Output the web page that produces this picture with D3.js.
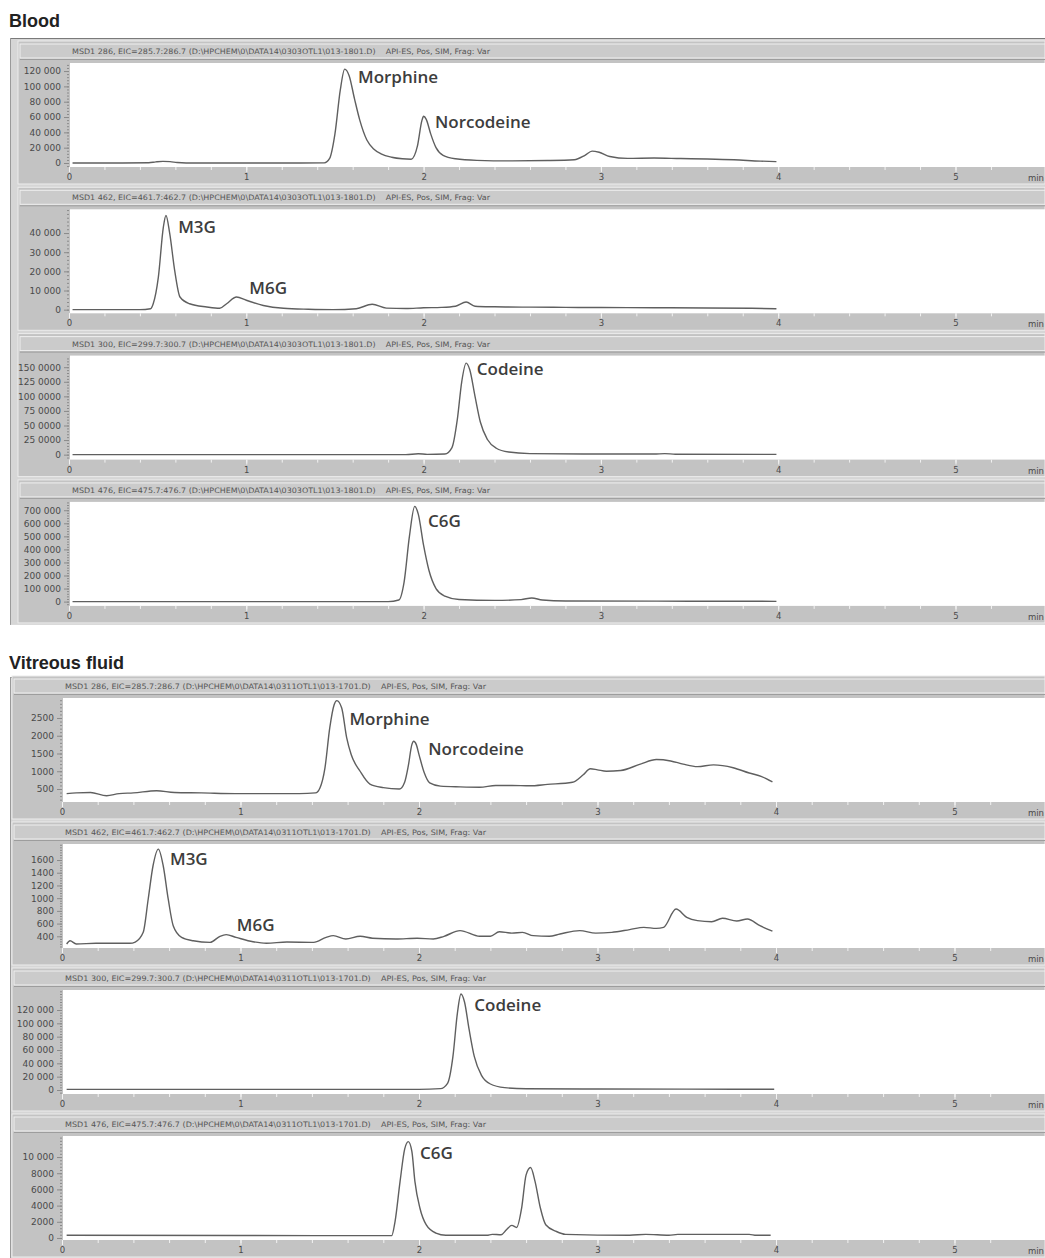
<!DOCTYPE html>
<html>
<head>
<meta charset="utf-8">
<script src="https://cdn.jsdelivr.net/npm/d3@7"></script>
<style>
  body { margin: 0; background: #fff; }
  svg { display: block; font-family: "DejaVu Sans", sans-serif; }
</style>
</head>
<body>
<svg id="chart" width="1045" height="1258"></svg>
<script>
// ---- data: [time (min), abundance] ----
var bloodIon286 = [[0.02,0],[0.3,0],[0.45,300],[0.49,1500],[0.53,2200],[0.57,1800],[0.61,600],[0.66,0],[1.0,0],[1.3,0],[1.44,200],[1.47,6000],[1.5,38000],[1.53,95000],[1.555,122500],[1.58,114000],[1.61,84000],[1.64,56000],[1.68,30000],[1.72,18000],[1.76,12000],[1.82,7500],[1.88,5500],[1.93,5000],[1.965,22000],[1.99,55000],[2.0,61000],[2.015,57000],[2.04,38000],[2.07,20000],[2.11,10000],[2.18,5500],[2.3,3500],[2.5,2800],[2.7,3200],[2.85,4200],[2.91,10000],[2.95,15500],[2.99,14000],[3.05,8500],[3.15,6000],[3.3,6500],[3.45,5800],[3.6,5200],[3.75,4200],[3.9,2500],[3.99,1800]];
var bloodIon462 = [[0.02,0],[0.4,0],[0.46,500],[0.475,3100],[0.504,17000],[0.532,43000],[0.547,49200],[0.568,39800],[0.596,20500],[0.626,6600],[0.68,3100],[0.777,1400],[0.85,700],[0.889,3100],[0.945,6600],[1.0,4900],[1.096,2200],[1.21,700],[1.35,200],[1.49,0],[1.62,500],[1.71,2800],[1.79,800],[1.9,600],[2.0,1000],[2.1,1200],[2.18,1800],[2.24,4000],[2.29,1800],[2.4,1500],[2.6,1300],[2.8,1200],[3.0,1100],[3.3,1000],[3.6,900],[3.85,700],[3.99,500]];
var bloodIon300 = [[0.02,0],[1.0,0],[1.9,0],[1.97,15000],[2.02,5000],[2.12,10000],[2.16,120000],[2.19,600000],[2.215,1250000],[2.24,1570000],[2.26,1460000],[2.29,1000000],[2.32,560000],[2.36,260000],[2.41,110000],[2.48,45000],[2.6,18000],[2.9,10000],[3.3,10000],[3.36,18000],[3.42,8000],[3.99,5000]];
var bloodIon476 = [[0.02,0],[1.0,0],[1.8,0],[1.86,12000],[1.89,150000],[1.92,500000],[1.95,730000],[1.97,670000],[2.0,430000],[2.03,240000],[2.07,100000],[2.12,42000],[2.2,16000],[2.4,9000],[2.55,15000],[2.61,28000],[2.67,12000],[2.8,5000],[3.5,3000],[3.99,2000]];

var vitIon286 = [[0.026,370],[0.08,390],[0.16,400],[0.25,310],[0.32,370],[0.4,390],[0.53,450],[0.63,400],[0.78,390],[0.97,370],[1.15,370],[1.33,370],[1.42,390],[1.445,530],[1.473,1090],[1.5,2220],[1.525,2880],[1.54,2990],[1.567,2780],[1.595,1940],[1.62,1470],[1.67,1000],[1.725,640],[1.8,540],[1.89,500],[1.92,700],[1.94,1150],[1.96,1750],[1.97,1844],[1.985,1750],[2.0,1470],[2.03,950],[2.06,670],[2.12,580],[2.23,560],[2.34,550],[2.43,600],[2.52,600],[2.62,590],[2.72,630],[2.86,690],[2.92,900],[2.96,1070],[3.0,1040],[3.05,1000],[3.13,1020],[3.24,1200],[3.33,1330],[3.41,1290],[3.48,1200],[3.56,1130],[3.65,1180],[3.76,1100],[3.85,950],[3.92,850],[3.98,700]];
var vitIon462 = [[0.026,279],[0.045,330],[0.08,279],[0.19,290],[0.3,290],[0.38,290],[0.41,310],[0.455,463],[0.483,987],[0.51,1510],[0.54,1772],[0.567,1510],[0.595,987],[0.623,567],[0.67,384],[0.735,330],[0.83,305],[0.885,400],[0.92,426],[0.975,384],[1.07,315],[1.145,290],[1.26,310],[1.41,305],[1.48,384],[1.52,410],[1.59,357],[1.67,400],[1.74,370],[1.87,357],[1.99,370],[2.08,357],[2.14,400],[2.23,490],[2.34,400],[2.4,400],[2.45,472],[2.52,450],[2.58,462],[2.64,410],[2.73,400],[2.79,436],[2.9,490],[2.99,450],[3.08,462],[3.18,505],[3.26,541],[3.33,525],[3.37,541],[3.44,829],[3.5,698],[3.56,646],[3.64,630],[3.7,683],[3.78,640],[3.84,672],[3.91,567],[3.98,480]];
var vitIon300 = [[0.026,1000],[1.0,1000],[2.0,1000],[2.12,2000],[2.16,10000],[2.19,50000],[2.215,115000],[2.235,144000],[2.255,132000],[2.28,92000],[2.31,50000],[2.35,22000],[2.4,9000],[2.48,3500],[2.6,1800],[3.0,1500],[3.5,1300],[3.99,1200]];
var vitIon476 = [[0.026,330],[1.0,300],[1.847,290],[1.866,2060],[1.894,7000],[1.92,11000],[1.94,11900],[1.96,10700],[1.977,7000],[2.005,3700],[2.04,1640],[2.095,600],[2.15,330],[2.38,330],[2.41,450],[2.46,400],[2.49,1020],[2.52,1560],[2.547,1300],[2.575,3700],[2.6,7800],[2.625,8700],[2.65,7000],[2.68,3700],[2.71,1640],[2.77,800],[2.82,450],[3.18,330],[3.27,450],[3.4,330],[3.45,450],[3.85,450],[3.89,330],[3.97,330]];

// y tick labels per panel
var bloodTicks286 = [0, 20000, 40000, 60000, 80000, 100000, 120000];
var bloodTicks462 = [0, 10000, 20000, 30000, 40000];
var bloodTicks300 = [0, 250000, 500000, 750000, 1000000, 1250000, 1500000];
var bloodTicks476 = [0, 100000, 200000, 300000, 400000, 500000, 600000, 700000];
var vitTicks286 = [500, 1000, 1500, 2000, 2500];
var vitTicks462 = [400, 600, 800, 1000, 1200, 1400, 1600];
var vitTicks300 = [0, 20000, 40000, 60000, 80000, 100000, 120000];
var vitTicks476 = [0, 2000, 4000, 6000, 8000, 10000];

var timeTicks = [0, 1, 2, 3, 4, 5];

// peak names, [time, abundance] where the label sits
var bloodLabels = [
    [{ name: "Morphine", t: 1.63, v: 104000 }, { name: "Norcodeine", t: 2.064, v: 45700 }],
    [{ name: "M3G", t: 0.616, v: 40000 }, { name: "M6G", t: 1.017, v: 8000 }],
    [{ name: "Codeine", t: 2.30, v: 1358000 }],
    [{ name: "C6G", t: 2.025, v: 569000 }]
];
var vitLabels = [
    [{ name: "Morphine", t: 1.61, v: 2311 }, { name: "Norcodeine", t: 2.052, v: 1466 }],
    [{ name: "M3G", t: 0.605, v: 1521 }, { name: "M6G", t: 0.979, v: 488 }],
    [{ name: "Codeine", t: 2.31, v: 118500 }],
    [{ name: "C6G", t: 2.006, v: 9790 }]
];

var ions = ["286", "462", "300", "476"];

var spaceFmt = function (d) {
    return d >= 10000 ? d3.format(",")(d).replace(/,/g, " ") : String(d);
};
var oddFmt = function (d) { return d === 0 ? "0" : (d / 10000) + " 0000"; };

var blocks = [
    {
        title: "Blood", titleY: 27, frameTop: 38, top: 44, pitch: 146.3, x0: 69, pxMin: 177.3,
        file: "0303OTL1\\013-1801.D", headLen: 418,
        traces: [bloodIon286, bloodIon462, bloodIon300, bloodIon476],
        ticks: [bloodTicks286, bloodTicks462, bloodTicks300, bloodTicks476],
        fmts: [spaceFmt, spaceFmt, oddFmt, spaceFmt],
        domains: [[-5200, 130500], [-1900, 52400], [-85000, 1699000], [-33000, 764000]],
        labels: bloodLabels, panelLeft: 18
    },
    {
        title: "Vitreous fluid", titleY: 669, frameTop: 677, top: 679, pitch: 146, x0: 62, pxMin: 178.5,
        file: "0311OTL1\\013-1701.D", headLen: 421,
        traces: [vitIon286, vitIon462, vitIon300, vitIon476],
        ticks: [vitTicks286, vitTicks462, vitTicks300, vitTicks476],
        fmts: [spaceFmt, spaceFmt, spaceFmt, spaceFmt],
        domains: [[134, 3063], [216, 1852], [-6000, 150000], [-250, 12600]],
        labels: vitLabels, panelLeft: 12
    }
];

var W = 1045;
var svg = d3.select("#chart");
var defs = svg.append("defs");

blocks.forEach(function (b, bi) {
    // section title
    svg.append("text")
        .attr("x", 9).attr("y", b.titleY)
        .attr("font-family", "'Liberation Sans', Arial, sans-serif")
        .attr("font-weight", "bold").attr("font-size", 19)
        .attr("textLength", bi === 0 ? 51 : 115).attr("lengthAdjust", "spacingAndGlyphs")
        .attr("fill", "#222")
        .text(b.title);

    var blockBottom = Math.min(b.top + b.pitch * 3 + 142, 1258);
    svg.append("rect")
        .attr("x", 10).attr("y", b.frameTop)
        .attr("width", W - 10).attr("height", blockBottom - b.frameTop)
        .attr("fill", "#d6d6d6");
    svg.append("line")
        .attr("x1", 10).attr("x2", W).attr("y1", b.frameTop + 0.5).attr("y2", b.frameTop + 0.5)
        .attr("stroke", "#7a7a7a");
    svg.append("line")
        .attr("x1", 10.5).attr("x2", 10.5).attr("y1", b.frameTop).attr("y2", blockBottom)
        .attr("stroke", "#9a9a9a");

    var x = d3.scaleLinear()
        .domain([0, (W - b.x0) / b.pxMin])
        .range([b.x0, W]);

    ions.forEach(function (ion, i) {
        var y0 = b.top + i * b.pitch;
        var plotTop = y0 + 19, plotBot = y0 + 123;
        var g = svg.append("g");

        // panel body
        g.append("rect")
            .attr("x", b.panelLeft).attr("y", y0 - 3)
            .attr("width", W - b.panelLeft).attr("height", 143)
            .attr("fill", "#c3c3c3").attr("stroke", "#ececec");

        // header bar
        g.append("rect")
            .attr("x", b.panelLeft + 2).attr("y", y0)
            .attr("width", W - b.panelLeft - 2).attr("height", 14)
            .attr("fill", "#cbcbcb").attr("stroke", "#efefef");
        g.append("line")
            .attr("x1", b.panelLeft + 2).attr("x2", W)
            .attr("y1", y0 + 15.5).attr("y2", y0 + 15.5)
            .attr("stroke", "#9d9d9d");

        var lo = +ion - 0.3, hi = +ion + 0.7;
        var head = "MSD1 " + ion + ", EIC=" + lo.toFixed(1) + ":" + hi.toFixed(1) +
            " (D:\\HPCHEM\\0\\DATA14\\" + b.file + ")    API-ES, Pos, SIM, Frag: Var";
        g.append("text")
            .attr("x", b.x0 + 3).attr("y", y0 + 10)
            .attr("font-size", 7.5).attr("fill", "#555")
            .attr("textLength", b.headLen).attr("lengthAdjust", "spacingAndGlyphs")
            .attr("xml:space", "preserve")
            .text(head);

        // plot area
        g.append("rect")
            .attr("x", b.x0 + 1).attr("y", plotTop)
            .attr("width", W - b.x0 - 1).attr("height", plotBot - plotTop)
            .attr("fill", "#fff");

        var y = d3.scaleLinear().domain(b.domains[i]).range([plotBot, plotTop]);

        // y axis: major + minor ticks
        var tv = b.ticks[i];
        var step = tv[1] - tv[0];
        var minor = d3.range(Math.ceil(b.domains[i][0] / (step / 5)), Math.floor(b.domains[i][1] / (step / 5)) + 1)
            .map(function (k) { return k * step / 5; });
        var yMinor = g.append("g")
            .attr("transform", "translate(" + b.x0 + ",0)")
            .call(d3.axisLeft(y).tickValues(minor).tickSize(2).tickFormat(""));
        var yAxis = g.append("g")
            .attr("transform", "translate(" + b.x0 + ",0)")
            .call(d3.axisLeft(y).tickValues(tv).tickSize(5).tickPadding(3).tickFormat(b.fmts[i]));
        [yMinor, yAxis].forEach(function (ax) {
            ax.select(".domain").remove();
            ax.selectAll("line").attr("stroke", "#8a8a8a");
        });
        yAxis.selectAll("text")
            .attr("font-size", 9).attr("fill", "#4a4a4a")
            .attr("font-family", "'DejaVu Sans', sans-serif");

        // x axis
        var xMinor = d3.range(0, 27).map(function (k) { return k * 0.2; });
        var xm = g.append("g")
            .attr("transform", "translate(0," + plotBot + ")")
            .call(d3.axisBottom(x).tickValues(xMinor).tickSize(3).tickFormat(""));
        var xa = g.append("g")
            .attr("transform", "translate(0," + plotBot + ")")
            .call(d3.axisBottom(x).tickValues(timeTicks).tickSize(5).tickPadding(2).tickFormat(d3.format("d")));
        [xm, xa].forEach(function (ax) {
            ax.select(".domain").remove();
            ax.selectAll("line").attr("stroke", "#f2f2f2");
        });
        xa.selectAll("text")
            .attr("font-size", 8.5).attr("fill", "#4a4a4a")
            .attr("font-family", "'DejaVu Sans', sans-serif");
        g.append("text")
            .attr("x", 1044).attr("y", plotBot + 14)
            .attr("text-anchor", "end")
            .attr("font-size", 8.5).attr("fill", "#4a4a4a")
            .text("min");

        // trace
        var clipId = "clip" + bi + "_" + i;
        defs.append("clipPath").attr("id", clipId)
            .append("rect")
            .attr("x", b.x0 + 1).attr("y", plotTop)
            .attr("width", W - b.x0 - 1).attr("height", plotBot - plotTop);

        var line = d3.line()
            .x(function (d) { return x(d[0]); })
            .y(function (d) { return y(d[1]); })
            .curve(d3.curveMonotoneX);

        g.append("path")
            .datum(b.traces[i])
            .attr("clip-path", "url(#" + clipId + ")")
            .attr("d", line)
            .attr("fill", "none")
            .attr("stroke", "#5f5f5f")
            .attr("stroke-width", 1.4);

        // peak names
        g.selectAll("text.peak")
            .data(b.labels[i])
            .enter()
            .append("text")
            .attr("class", "peak")
            .attr("x", function (d) { return x(d.t); })
            .attr("y", function (d) { return y(d.v); })
            .attr("font-family", "'Open Sans', sans-serif")
            .attr("font-weight", 600)
            .attr("font-size", 17)
            .attr("fill", "#3d3d3d")
            .text(function (d) { return d.name; });
    });
});
</script>
</body>
</html>
